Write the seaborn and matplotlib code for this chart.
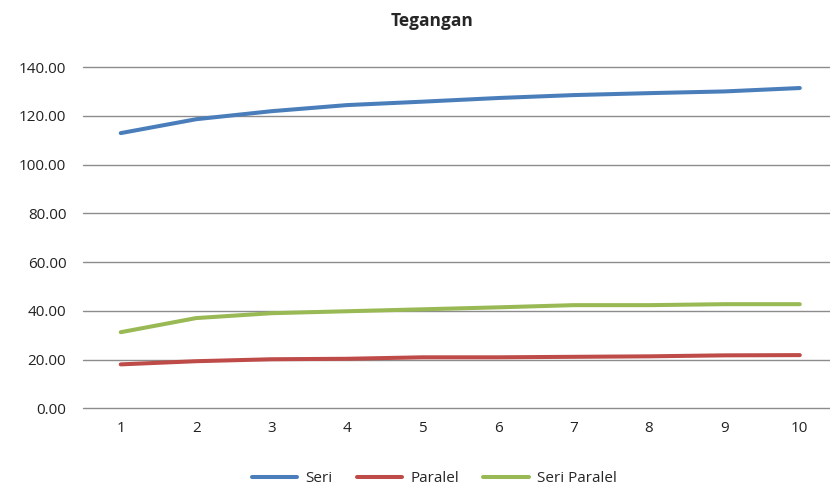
import numpy as np
import pandas as pd
import matplotlib
matplotlib.use("Agg")
import matplotlib.pyplot as plt
import seaborn as sns

# Data
x_vals = [1, 2, 3, 4, 5, 6, 7, 8, 9, 10]
seri = [112.9, 118.6, 121.9, 124.4, 125.8, 127.3, 128.5, 129.3, 130.0, 131.4]
paralel = [18.0, 19.3, 20.1, 20.3, 20.9, 20.9, 21.1, 21.3, 21.7, 21.8]
seri_paralel = [31.2, 37.0, 39.0, 39.8, 40.6, 41.4, 42.3, 42.3, 42.7, 42.7]
series_names = ["Seri", "Paralel", "Seri Paralel"]
colors = ["#4A7EBB", "#BE4B48", "#98B954"]

df = pd.DataFrame({
    "x": x_vals * 3,
    "value": seri + paralel + seri_paralel,
    "series": [n for n in series_names for _ in x_vals],
})

sns.set_theme(style="white")
plt.rcParams["font.family"] = ["Open Sans", "DejaVu Sans"]

fig = plt.figure(figsize=(8.3, 4.86), dpi=100)
ax = fig.add_axes([0.1, 0.16, 0.9, 0.702])

sns.lineplot(data=df, x="x", y="value", hue="series", palette=colors,
             hue_order=series_names, linewidth=2.9, ax=ax, legend=True)

ax.set_xlim(0.5, 10.40)
ax.set_ylim(0, 140)
ax.set_yticks(np.arange(0, 141, 20))
ax.set_yticklabels([f"{v:.2f}" for v in np.arange(0, 141, 20)], fontsize=11, color="#222222")
ax.set_xticks(x_vals)
ax.set_xticklabels([str(v) for v in x_vals], fontsize=11, color="#222222")
ax.yaxis.grid(True, color="#8c8c8c", linewidth=1)
for gl in ax.get_ygridlines():
    gl.set_clip_on(False)
ax.set_axisbelow(True)
for s in ax.spines.values():
    s.set_visible(False)
ax.tick_params(axis="x", length=0, pad=9)
ax.tick_params(axis="y", length=0, pad=12)
ax.set_xlabel("")
ax.set_ylabel("")

fig.suptitle("Tegangan", y=0.975, fontsize=12.5, fontweight="bold", x=0.52)

handles, labels = ax.get_legend_handles_labels()
ax.legend(handles, labels, loc="upper center", bbox_to_anchor=(0.47, -0.145),
          ncol=3, frameon=False, fontsize=11, handlelength=3.0,
          columnspacing=1.6, handletextpad=0.5)

fig.savefig("out.png", dpi=100)
